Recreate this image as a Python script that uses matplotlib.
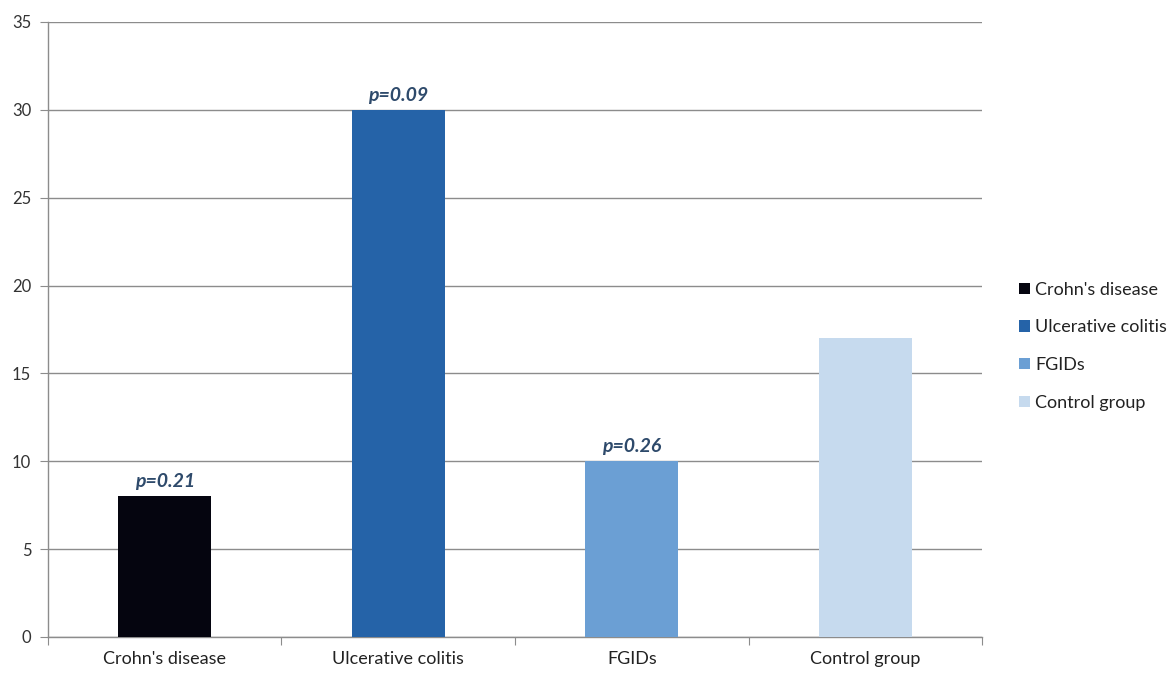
import matplotlib
matplotlib.use("Agg")
import matplotlib.pyplot as plt
from matplotlib.patches import Patch
import numpy as np

categories = ["Crohn's disease", "Ulcerative colitis", "FGIDs", "Control group"]
values = [8, 30, 10, 17]
pvalues = ["p=0.21", "p=0.09", "p=0.26", None]
colors = ["#05050f", "#2563a8", "#6b9fd4", "#c6daee"]
yticks = [0, 5, 10, 15, 20, 25, 30, 35]

plt.rcParams['font.family'] = ['Lato', 'DejaVu Sans']

fig = plt.figure(figsize=(11.73, 6.76), dpi=100)
ax = fig.add_axes([0.0409, 0.0577, 0.7963, 0.9098])

x = np.arange(len(categories))
ax.bar(x, values, width=0.4, color=colors, zorder=3)

for xi, v, p in zip(x, values, pvalues):
    if p:
        ax.text(xi, v + 0.35, p, ha='center', va='bottom', fontsize=14,
                fontweight='bold', fontstyle='italic', color='#2e4a6b', zorder=4)

ax.set_xlim(-0.5, len(categories) - 0.5)
ax.set_ylim(0, 35)
ax.set_yticks(yticks)
ax.set_yticklabels([str(t) for t in yticks], fontsize=12, color='#333333')
ax.yaxis.grid(True, color='#8c8c8c', linewidth=1, zorder=0)
ax.set_axisbelow(True)

# x ticks at category boundaries, labels centered
ax.set_xticks(np.arange(-0.5, len(categories), 1.0))
ax.set_xticklabels([])
ax.set_xticks(x, minor=True)
ax.set_xticklabels(categories, minor=True, fontsize=13, color='#222222')
ax.tick_params(axis='x', which='minor', length=0, pad=10)
ax.tick_params(axis='x', which='major', length=6, color='#8c8c8c', direction='out')
ax.tick_params(axis='y', length=6, color='#8c8c8c', direction='out', pad=6)

for s in ['top', 'right']:
    ax.spines[s].set_visible(False)
for s in ['left', 'bottom']:
    ax.spines[s].set_color('#8c8c8c')
    ax.spines[s].set_linewidth(1)

handles = [Patch(facecolor=c, edgecolor='none') for c in colors]
fig.legend(handles, categories, loc='center left', bbox_to_anchor=(0.855, 0.488),
           frameon=False, fontsize=13, handlelength=0.6, handleheight=0.6,
           handletextpad=0.3, labelspacing=1.2, labelcolor='#222222')

fig.savefig("out.png", dpi=100)
